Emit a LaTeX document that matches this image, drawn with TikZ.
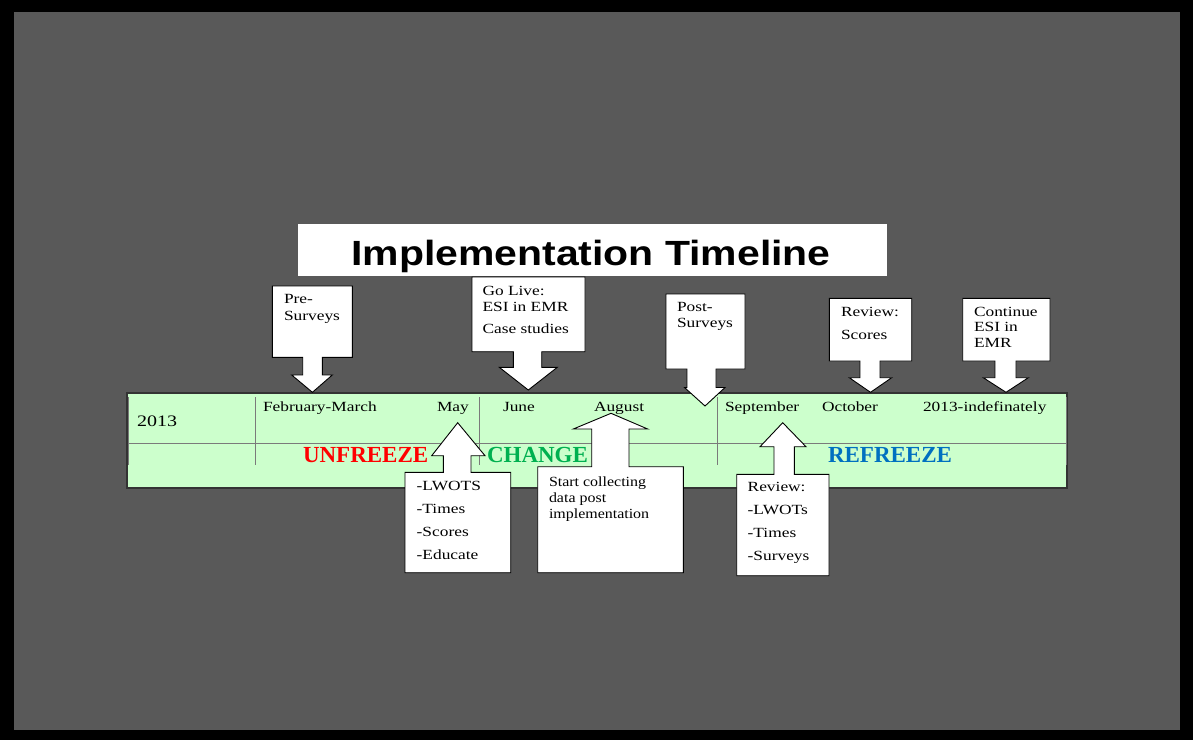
\documentclass[tikz,border=0pt]{standalone}
\usepackage{fontspec}
\setmainfont{Liberation Serif}
\newfontfamily\titlesans{Liberation Sans}
\definecolor{bggray}{HTML}{595959}
\definecolor{tlgreen}{HTML}{CCFFCC}
\definecolor{tlline}{HTML}{7A7A7A}
\definecolor{unfrz}{HTML}{FF0000}
\definecolor{chg}{HTML}{00B050}
\definecolor{refrz}{HTML}{0070C0}
\newcommand\hstr[1]{\scalebox{1.24}[1]{#1}}
\newcommand\hstrs[1]{\scalebox{1.14}[1]{#1}}
\newcommand\hstry[1]{\scalebox{1.25}[1]{#1}}
\begin{document}
\begin{tikzpicture}[x=1pt,y=-1pt,
  lbl/.style={anchor=base west, inner sep=0pt, outer sep=0pt, font=\fontsize{14}{16}\selectfont},
  phase/.style={anchor=base west, inner sep=0pt, outer sep=0pt, font=\fontsize{23}{25}\selectfont\bfseries},
  callout/.style={fill=white, draw=black, line width=0.9pt, line join=miter},
  tline/.style={draw=tlline, line width=0.9pt}]
\useasboundingbox (0,0) rectangle (1193,740);
\fill[black] (0,0) rectangle (1193,740);
\fill[bggray] (14,12) rectangle (1180,730);

% title
\node[fill=white, minimum width=589pt, minimum height=52pt, inner sep=0pt, anchor=north west] (title) at (298,224) {};
\node[anchor=base, inner sep=0pt, font=\titlesans\bfseries\fontsize{35}{38}\selectfont] (titletext) at (591,265.5) {\scalebox{1.17}[1]{Implementation Timeline}};

% timeline table
\draw[fill=tlgreen, draw=black!80, line width=1.2pt] (127,393) rectangle (1067,488);
\coordinate (hl) at (128,443); \coordinate (hr) at (1066,443);
\draw[tline] (hl) -- (hr);
\foreach \vx/\nm in {128/va,255/vb,479/vc,717/vd,1066/ve}{
  \coordinate (\nm t) at (\vx,397); \coordinate (\nm b) at (\vx,465);
  \draw[tline] (\nm t) -- (\nm b);
}

\node[anchor=base west, inner sep=0pt, font=\fontsize{16}{18}\selectfont] (yr) at (137,426) {\hstry{2013}};
\node[lbl] (feb) at (263,411) {\hstr{February-March}};
\node[lbl] (may) at (437,411) {\hstr{May}};
\node[lbl] (jun) at (503,411) {\hstr{June}};
\node[lbl] (aug) at (594,411) {\hstr{August}};
\node[lbl] (sep) at (725,411) {\hstr{September}};
\node[lbl] (oct) at (822,411) {\hstr{October}};
\node[lbl] (ind) at (923,411) {\hstr{2013-indefinately}};

\node[phase, text=unfrz] (unfreeze) at (303,462) {UNFREEZE};
\node[phase, text=chg] (change) at (487,462) {CHANGE};
\node[phase, text=refrz] (refreeze) at (828,462) {REFREEZE};

% down callouts
\draw[callout] (272.3,286) -- (352.3,286) -- (352.3,357.3) -- (322.3,357.3) -- (322.3,375) -- (332.3,375) -- (312.4,392.3) -- (291.7,375) -- (302.7,375) -- (302.7,357.3) -- (272.3,357.3) -- cycle;
\draw[callout] (472,277) -- (585,277) -- (585,351.7) -- (541.7,351.7) -- (541.7,367.3) -- (557.3,367.3) -- (528.3,390) -- (499.3,367.3) -- (513.3,367.3) -- (513.3,351.7) -- (472,351.7) -- cycle;
\draw[callout] (666,294) -- (745,294) -- (745,369) -- (716,369) -- (716,387.5) -- (725,387.5) -- (705,406) -- (684.5,387.5) -- (687,387.5) -- (687,369) -- (666,369) -- cycle;
\draw[callout] (829.3,298.3) -- (911.7,298.3) -- (911.7,361) -- (880,361) -- (880,377.7) -- (891.7,377.7) -- (870.5,392.3) -- (849.3,377.7) -- (860,377.7) -- (860,361) -- (829.3,361) -- cycle;
\draw[callout] (962.7,298.3) -- (1050,298.3) -- (1050,361) -- (1016,361) -- (1016,377.7) -- (1028.3,377.7) -- (1006,392.3) -- (983.3,377.7) -- (995,377.7) -- (995,361) -- (962.7,361) -- cycle;

% up callouts
\draw[callout] (405,572.7) -- (510.7,572.7) -- (510.7,472.3) -- (471,472.3) -- (471,455.7) -- (485,455.7) -- (457.7,422.7) -- (431.7,455.7) -- (443.3,455.7) -- (443.3,472.3) -- (405,472.3) -- cycle;
\draw[callout] (537.7,572.7) -- (683.3,572.7) -- (683.3,466.7) -- (629,466.7) -- (629,429) -- (647.7,429) -- (611,413.3) -- (573.3,429) -- (591.7,429) -- (591.7,466.7) -- (537.7,466.7) -- cycle;
\draw[callout] (736.7,575.7) -- (829,575.7) -- (829,474.3) -- (794.3,474.3) -- (794.3,446.7) -- (806,446.7) -- (782.7,422.7) -- (760,446.7) -- (774,446.7) -- (774,474.3) -- (736.7,474.3) -- cycle;

% callout texts
\node[lbl] (pre1) at (284,303) {\hstr{Pre-}};
\node[lbl] (pre2) at (284,320) {\hstr{Surveys}};
\node[lbl] (go1) at (482.5,295.5) {\hstr{Go Live:}};
\node[lbl] (go2) at (482.5,311) {\hstr{ESI in EMR}};
\node[lbl] (go3) at (482.5,333.5) {\hstr{Case studies}};
\node[lbl] (post1) at (677,311.5) {\hstr{Post-}};
\node[lbl] (post2) at (677,327) {\hstr{Surveys}};
\node[lbl] (rs1) at (841,316.5) {\hstr{Review:}};
\node[lbl] (rs2) at (841,339) {\hstr{Scores}};
\node[lbl] (ce1) at (974,316) {\hstr{Continue}};
\node[lbl] (ce2) at (974,331.7) {\hstr{ESI in}};
\node[lbl] (ce3) at (974,347.7) {\hstr{EMR}};

\node[lbl] (lw1) at (416.7,490) {\hstr{-LWOTS}};
\node[lbl] (lw2) at (416.7,513.3) {\hstr{-Times}};
\node[lbl] (lw3) at (416.7,536.7) {\hstr{-Scores}};
\node[lbl] (lw4) at (416.7,559.3) {\hstr{-Educate}};
\node[lbl] (sc1) at (549,486) {\hstrs{Start collecting}};
\node[lbl] (sc2) at (549,502) {\hstrs{data post}};
\node[lbl] (sc3) at (549,518) {\hstrs{implementation}};
\node[lbl] (rv1) at (747.7,491.7) {\hstr{Review:}};
\node[lbl] (rv2) at (747.7,514.3) {\hstr{-LWOTs}};
\node[lbl] (rv3) at (747.7,537.7) {\hstr{-Times}};
\node[lbl] (rv4) at (747.7,560) {\hstr{-Surveys}};
\end{tikzpicture}
\end{document}
